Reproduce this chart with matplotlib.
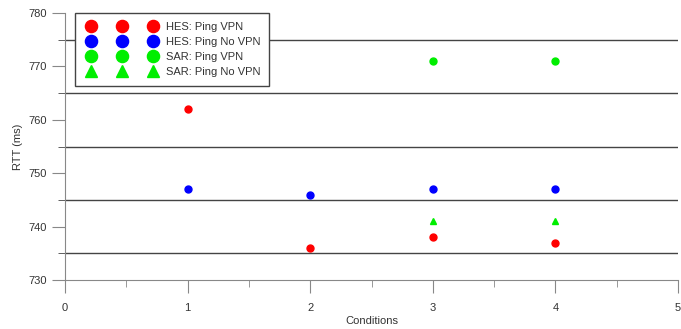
import matplotlib.pyplot as plt
import numpy as np
from matplotlib.ticker import MultipleLocator
from matplotlib.lines import Line2D
from matplotlib.legend_handler import HandlerLine2D

plt.rcParams['font.family'] = ['Liberation Sans', 'DejaVu Sans']

# values
hes_x = [1, 2, 3, 4]
hes_vpn = [762, 736, 738, 737]
hes_novpn = [747, 746, 747, 747]
sar_x = [3, 4]
sar_vpn = [771, 771]
sar_novpn = [741, 741]

fig = plt.figure(figsize=(6.81, 3.29), dpi=100)
ax = fig.add_axes([65 / 681, 49 / 329, 613 / 681, 267 / 329])

ax.plot(hes_x, hes_vpn, 'o', color='#ff0000', ms=5, label='HES: Ping VPN')
ax.plot(hes_x, hes_novpn, 'o', color='#0000ff', ms=5, label='HES: Ping No VPN')
ax.plot(sar_x, sar_vpn, 'o', color='#00ee00', ms=5, label='SAR: Ping VPN')
ax.plot(sar_x, sar_novpn, '^', color='#00ee00', ms=5, label='SAR: Ping No VPN')

ax.set_xlim(0, 5)
ax.set_ylim(730, 780)
ax.xaxis.set_major_locator(MultipleLocator(1))
ax.xaxis.set_minor_locator(MultipleLocator(0.5))
ax.yaxis.set_major_locator(MultipleLocator(10))
ax.yaxis.set_minor_locator(MultipleLocator(5))

ax.grid(False)
ax.grid(True, which='minor', axis='y', color='#444444', lw=1)
ax.set_axisbelow(True)

for s in ['top', 'right']:
    ax.spines[s].set_visible(False)
for s in ['left', 'bottom']:
    ax.spines[s].set_color('#888888')

ax.tick_params(which='major', length=9.5, color='#888888', labelsize=8, labelcolor='#333333')
ax.tick_params(which='minor', length=5, color='#888888')
ax.tick_params(axis='y', which='minor', color='#444444')
ax.tick_params(axis='x', pad=7)

ax.set_xlabel('Conditions', fontsize=8, color='#333333', labelpad=2)
ax.set_ylabel('RTT (ms)', fontsize=8, color='#333333', labelpad=4)

# legend with three markers per entry, spread like the original
leg = ax.legend(loc='upper left', bbox_to_anchor=(10 / 613, 1.0), borderaxespad=0,
                numpoints=3, markerscale=1.75, fontsize=8, frameon=True, fancybox=False,
                framealpha=1, borderpad=0.8, handlelength=6.8, handletextpad=0.55,
                labelspacing=0.45,
                handler_map={Line2D: HandlerLine2D(marker_pad=0.6)})
leg.get_frame().set_edgecolor('#444444')
leg.get_frame().set_linewidth(1)
for t in leg.get_texts():
    t.set_color('#333333')

fig.savefig('out.png', dpi=100)
